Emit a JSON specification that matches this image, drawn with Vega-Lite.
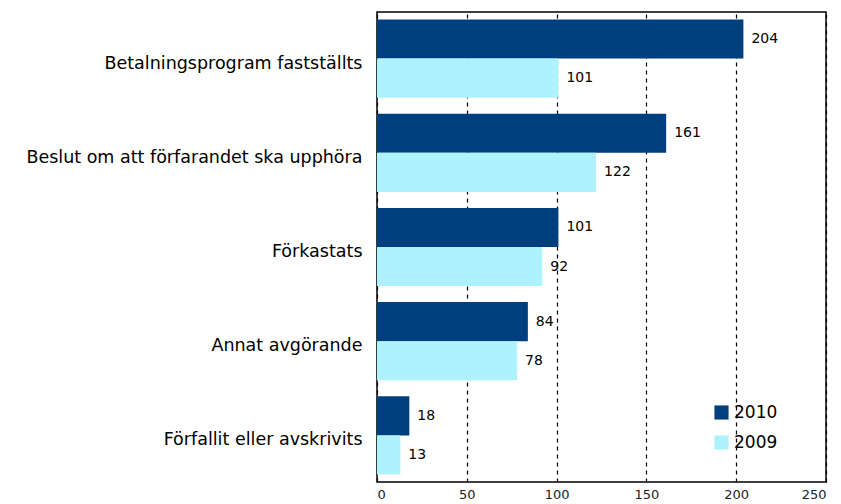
{
  "$schema": "https://vega.github.io/schema/vega-lite/v6.json",
  "width": 449,
  "height": 470,
  "autosize": {"type": "none"},
  "padding": {"left": 377, "top": 12, "right": 15, "bottom": 22},
  "background": "white",
  "config": {
    "font": "DejaVu Sans",
    "view": {"stroke": "black", "strokeWidth": 1.5}
  },
  "data": {
    "values": [
      {"cat": "Betalningsprogram fastställts", "year": "2010", "value": 204},
      {"cat": "Betalningsprogram fastställts", "year": "2009", "value": 101},
      {"cat": "Beslut om att förfarandet ska upphöra", "year": "2010", "value": 161},
      {"cat": "Beslut om att förfarandet ska upphöra", "year": "2009", "value": 122},
      {"cat": "Förkastats", "year": "2010", "value": 101},
      {"cat": "Förkastats", "year": "2009", "value": 92},
      {"cat": "Annat avgörande", "year": "2010", "value": 84},
      {"cat": "Annat avgörande", "year": "2009", "value": 78},
      {"cat": "Förfallit eller avskrivits", "year": "2010", "value": 18},
      {"cat": "Förfallit eller avskrivits", "year": "2009", "value": 13}
    ]
  },
  "encoding": {
    "y": {
      "field": "cat",
      "type": "nominal",
      "sort": null,
      "scale": {"paddingInner": 0.17, "paddingOuter": 0.08},
      "axis": {
        "title": null,
        "domain": false,
        "ticks": false,
        "labelFontSize": 17.5,
        "labelColor": "black",
        "labelPadding": 15,
        "labelLimit": 400,
        "labelBaseline": "middle",
        "labelOffset": 5
      }
    },
    "yOffset": {"field": "year", "type": "nominal", "sort": ["2010", "2009"]},
    "x": {
      "field": "value",
      "type": "quantitative",
      "scale": {"domain": [0, 250], "nice": false},
      "axis": {
        "title": null,
        "values": [0, 50, 100, 150, 200, 250],
        "domain": false,
        "ticks": false,
        "labelFontSize": 13,
        "labelColor": "#222",
        "labelPadding": 6,
        "grid": true,
        "gridColor": "black",
        "gridDash": [4, 4],
        "gridWidth": 1.2
      }
    }
  },
  "layer": [
    {
      "mark": {"type": "bar"},
      "encoding": {
        "color": {
          "field": "year",
          "type": "nominal",
          "sort": ["2010", "2009"],
          "scale": {"domain": ["2010", "2009"], "range": ["#003f7d", "#aef2ff"]},
          "legend": {
            "title": null,
            "orient": "none",
            "legendX": 336,
            "legendY": 392,
            "symbolType": "square",
            "symbolSize": 200,
            "symbolStrokeWidth": 0,
            "labelFontSize": 17,
            "labelColor": "black",
            "rowPadding": 12,
            "labelOffset": 4
          }
        }
      }
    },
    {
      "mark": {"type": "text", "align": "left", "dx": 8, "fontSize": 14, "color": "black", "baseline": "middle"},
      "encoding": {
        "text": {"field": "value", "type": "quantitative"}
      }
    }
  ]
}
